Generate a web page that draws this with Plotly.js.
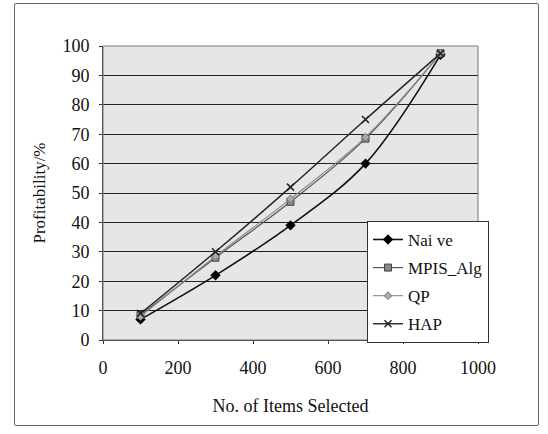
<!DOCTYPE html>
<html><head><meta charset="utf-8">
<script src="https://cdn.plot.ly/plotly-3.0.1.min.js"></script>
<style>
html,body{margin:0;padding:0;background:#fff;}
#frame{position:absolute;left:14px;top:3px;width:523px;height:421px;border:1px solid #666;border-radius:2px;}
#chart{position:absolute;left:0;top:0;width:548px;height:434px;}
</style></head>
<body>
<div id="frame"></div>
<div id="chart"></div>
<script>
var items = [100, 300, 500, 700, 900];
var naive = [7, 22, 39, 60, 97];
var mpis = [8.5, 28, 47, 68.5, 97.5];
var qp = [8, 28.5, 48, 69, 97.5];
var hap = [9, 30, 52, 75, 97.5];
var seriesNames = ['Nai ve', 'MPIS_Alg', 'QP', 'HAP'];
var xTicks = [0, 200, 400, 600, 800, 1000];
var yTicks = [0, 10, 20, 30, 40, 50, 60, 70, 80, 90, 100];

var fam = 'Liberation Serif, Times New Roman, serif';
function tr(y, name, lineCol, width, sym, mcol, msize, mline) {
  return {x: items, y: y, name: name, legendgroup: name, type: 'scatter', mode: 'lines+markers',
    line: {color: lineCol, width: width, shape: 'spline', smoothing: 1},
    marker: {symbol: sym, color: mcol, size: msize, line: mline}};
}
var data = [
  tr(naive, seriesNames[0], '#111', 1.6, 'diamond', '#000', 8, {width: 0}),
  tr(mpis, seriesNames[1], '#555', 1.2, 'square', '#888', 7, {color: '#444', width: 1}),
  tr(qp, seriesNames[2], '#888', 1.1, 'diamond', '#aaa', 6, {color: '#777', width: 1}),
  tr(hap, seriesNames[3], '#222', 1.4, 'x-thin', '#222', 7, {color: '#222', width: 1.5})
];
var layout = {
  width: 548, height: 434,
  margin: {l: 103, r: 70, t: 46, b: 94},
  paper_bgcolor: 'rgba(0,0,0,0)',
  plot_bgcolor: '#e6e6e6',
  font: {family: fam, color: '#111', size: 18},
  showlegend: true,
  legend: {x: 0.704, y: 0.405, xanchor: 'left', yanchor: 'top',
    bgcolor: '#fff', bordercolor: '#333', borderwidth: 1, traceorder: 'grouped',
    font: {family: fam, size: 17, color: '#111'}, tracegroupgap: 3, itemwidth: 30},
  xaxis: {range: [0, 1000], tickvals: xTicks, ticktext: xTicks.map(String),
    showgrid: false, zeroline: false, showline: true, linecolor: '#333', linewidth: 1,
    ticks: 'outside', ticklen: 3, tickcolor: '#333', ticklabelstandoff: 8,
    tickfont: {family: fam, size: 18, color: '#111'},
    title: {text: 'No. of Items Selected', font: {family: fam, size: 18, color: '#111'}, standoff: 22}},
  yaxis: {range: [0, 100], tickvals: yTicks, ticktext: yTicks.map(String),
    showgrid: true, gridcolor: '#222', gridwidth: 1, zeroline: false,
    showline: true, linecolor: '#333', linewidth: 1, ticks: 'outside', ticklen: 3, tickcolor: '#333',
    ticklabelstandoff: 6,
    tickfont: {family: fam, size: 18, color: '#111'},
    title: {text: 'Profitability/%', font: {family: fam, size: 17, color: '#111'}, standoff: 12}},
  shapes: [{type: 'rect', xref: 'paper', yref: 'paper', x0: 0, x1: 1, y0: 0, y1: 1,
    line: {color: '#777', width: 1}, fillcolor: 'rgba(0,0,0,0)'}]
};
Plotly.newPlot('chart', data, layout, {displayModeBar: false, staticPlot: true});
</script>
</body></html>
